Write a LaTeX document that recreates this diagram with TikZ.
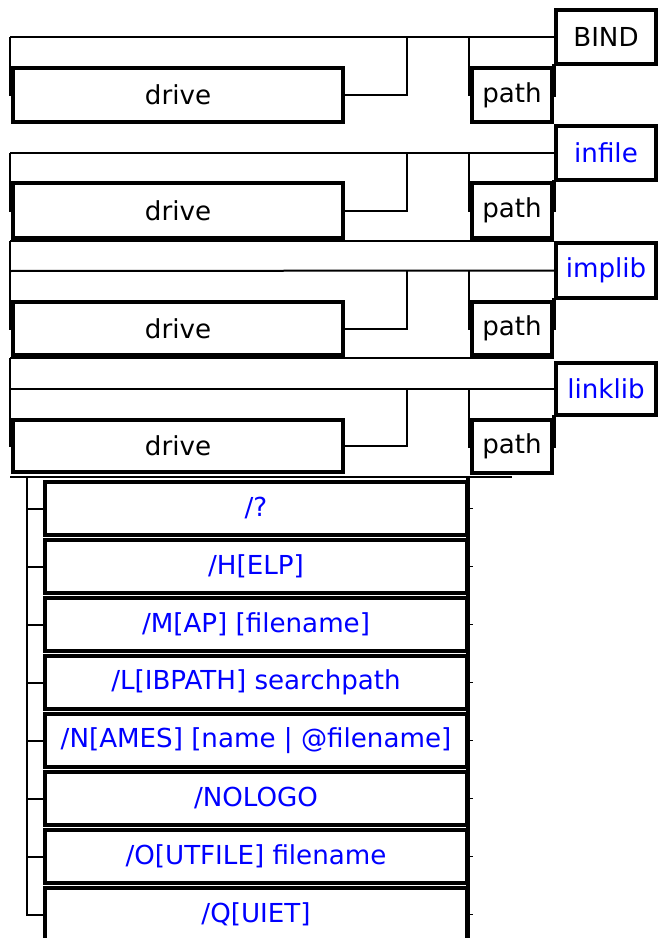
\documentclass[tikz,border=0pt]{standalone}
\usepackage{fontspec}
\setmainfont{DejaVu Sans}
\definecolor{linkblue}{RGB}{0,0,255}
\tikzset{
  bx/.style 2 args={draw, line width=2.9pt, inner sep=0pt, minimum width={#1*0.75pt}, minimum height={#2*0.75pt}, font=\fontsize{19.6}{23}\selectfont, anchor=center},
  kw/.style={text=black},
  refer/.style={text=linkblue},
  ln/.style={line width=1.5pt},
  thk/.style={line width=2.6pt},
}
\begin{document}
\begin{tikzpicture}[x=0.75pt,y=-0.75pt]
\useasboundingbox (0,0) rectangle (657,938);
% ---------- row 1 : BIND ----------
\node[bx={330}{54},kw] (drive1) at (178,95) {drive};
\node[bx={80}{54},kw] (path1) at (512,95) {path};
\node[bx={100}{54},kw] (bind) at (606,37) {BIND};
\coordinate (r1a) at (10,37);
\coordinate (r1e) at (407,37);
\coordinate (r1p) at (469,37);
\coordinate (r1q) at (554,95);
\draw[ln] (r1a) -- (bind.west);
\draw[ln] (r1a) |- (drive1.west);
\draw[ln] (drive1.east) -| (r1e);
\draw[ln] (r1p) |- (path1.west);
\draw[thk] (path1.east) -- (r1q) |- (bind.south west);
% ---------- row 2 : infile ----------
\node[bx={330}{55},kw] (drive2) at (178,210.5) {drive};
\node[bx={80}{55},kw] (path2) at (512,210.5) {path};
\node[bx={100}{54},refer] (infile) at (606,153) {infile};
\coordinate (r2a) at (10,153);
\coordinate (r2e) at (407,153);
\coordinate (r2p) at (469,153);
\coordinate (r2q) at (554,210.5);
\draw[ln] (r2a) -- (infile.west);
\draw[ln] (r2a) |- (drive2.west);
\draw[ln] (drive2.east) -| (r2e);
\draw[ln] (r2p) |- (path2.west);
\draw[thk] (path2.east) -- (r2q) |- (infile.south west);
% ---------- row 3 : implib ----------
\node[bx={330}{53},kw] (drive3) at (178,328.5) {drive};
\node[bx={80}{53},kw] (path3) at (512,328.5) {path};
\node[bx={100}{55},refer] (implib) at (606,270.5) {implib};
\coordinate (r3t) at (10,241);
\coordinate (r3a) at (10,271);
\coordinate (r3e) at (407,271);
\coordinate (r3p) at (469,271);
\coordinate (r3q) at (554,328.5);
\draw[ln] (r3t) -- (r3t -| implib.west);
\draw[ln] (r3a) -- (implib.west);
\draw[ln] (r3t) |- (drive3.west);
\draw[ln] (drive3.east) -| (r3e);
\draw[ln] (r3p) |- (path3.west);
\draw[thk] (path3.east) -- (r3q) |- (implib.south west);
% ---------- row 4 : linklib ----------
\node[bx={330}{52},kw] (drive4) at (178,446) {drive};
\node[bx={80}{53},kw] (path4) at (512,446.5) {path};
\node[bx={100}{52},refer] (linklib) at (606,389) {linklib};
\coordinate (r4t) at (10,358);
\coordinate (r4a) at (10,389);
\coordinate (r4e) at (407,389);
\coordinate (r4p) at (469,389);
\coordinate (r4q) at (554,446.5);
\draw[ln] (r4t) -- (r4t -| linklib.west);
\draw[ln] (r4a) -- (linklib.west);
\draw[ln] (r4t) |- (drive4.west);
\draw[ln] (drive4.east) -| (r4e);
\draw[ln] (r4p) |- (path4.west);
\draw[thk] (path4.east) -- (r4q) |- (linklib.south west);
% ---------- options ----------
\coordinate (bl) at (10,477);
\coordinate (br) at (512,477);
\draw[ln] (bl) -- (br);
\node[bx={422}{53},refer] (o1) at (256,508.5) {/?};
\node[bx={422}{53},refer] (o2) at (256,566.5) {/H[ELP]};
\node[bx={422}{53},refer] (o3) at (256,624.5) {/M[AP] [filename]};
\node[bx={422}{53},refer] (o4) at (256,682.5) {/L[IBPATH] searchpath};
\node[bx={422}{53},refer] (o5) at (256,740.5) {/N[AMES] [name | @filename]};
\node[bx={422}{53},refer] (o6) at (256,798.5) {/NOLOGO};
\node[bx={422}{53},refer] (o7) at (256,856.5) {/O[UTFILE] filename};
\node[bx={422}{53},refer] (o8) at (256,914.5) {/Q[UIET]};
\coordinate (lt) at (27,478);
\coordinate (rt) at (468,477);
\coordinate (rb) at (468,940);
\draw[ln] (lt) |- (o8.west);
\foreach \k in {1,...,7} {
  \draw[ln] (lt |- o\k.west) -- (o\k.west);
}
\draw[line width=3.2pt] (rt) -- (rb);
\foreach \k in {1,...,8} {
  \draw[line width=1pt] (o\k.east) -- ++(4,0);
}
\end{tikzpicture}
\end{document}
